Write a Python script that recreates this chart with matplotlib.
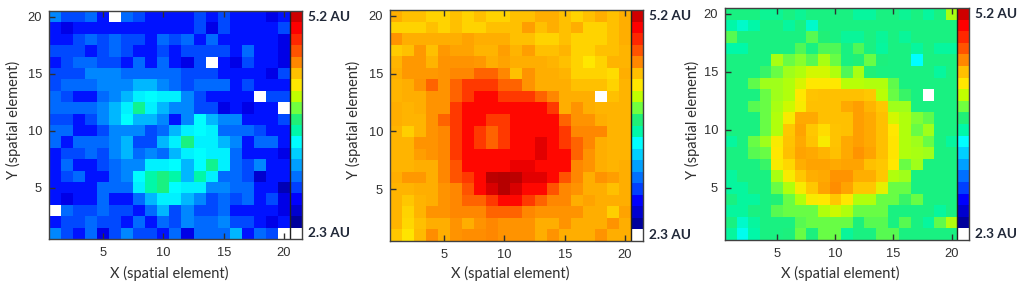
import numpy as np
import matplotlib
matplotlib.use('Agg')
import matplotlib.pyplot as plt
from matplotlib.colors import LinearSegmentedColormap

# colour level of each cell, rows from y=20 down to y=1, columns x=1..20
# level 1 is white (no data), level 20 is the 5.2 AU end of the scale
panel_a = [
    [6.5, 5.2, 5.2, 5.9, 4.3, 1, 5.9, 5.2, 4.3, 4.3, 4.3, 4.3, 5.2, 4.3, 5.2, 4.3, 4.3, 4.3, 3.5, 4.3],
    [4.3, 3.5, 4.3, 4.3, 4.3, 4.3, 4.3, 4.3, 4.3, 4.3, 4.3, 4.3, 5.2, 3.5, 5.2, 4.3, 4.3, 4.3, 4.3, 5.2],
    [4.3, 4.3, 5.2, 5.9, 5.2, 5.9, 5.2, 5.2, 4.3, 5.9, 5.2, 5.9, 4.3, 5.9, 4.3, 4.3, 4.3, 4.3, 4.3, 3.5],
    [5.2, 5.2, 5.2, 4.3, 5.2, 5.9, 5.2, 4.3, 4.3, 5.2, 4.3, 5.2, 5.2, 5.2, 5.2, 4.3, 5.9, 4.3, 4.3, 3.5],
    [4.3, 5.2, 5.9, 5.9, 5.2, 5.2, 4.3, 5.9, 4.3, 5.9, 4.3, 3.5, 5.2, 1, 4.3, 3.5, 5.2, 4.3, 4.3, 3.5],
    [5.2, 5.2, 5.2, 6.5, 6.5, 6.5, 5.9, 5.9, 5.9, 5.9, 5.9, 5.2, 5.2, 5.2, 4.3, 4.3, 4.3, 4.3, 3.5, 5.2],
    [5.2, 5.9, 5.9, 5.9, 6.5, 6.5, 6.5, 7.5, 7.5, 6.5, 5.9, 5.2, 5.9, 5.9, 5.9, 4.3, 5.2, 4.3, 4.3, 4.3],
    [5.9, 5.2, 4.3, 4.3, 5.9, 6.5, 7.5, 8.7, 9, 8.7, 8.7, 6.5, 5.2, 4.3, 4.3, 4.3, 4.3, 1, 5.2, 5.2],
    [5.9, 5.9, 5.9, 5.9, 6.5, 7.5, 8.7, 10.5, 8.7, 7.5, 6.5, 6.5, 5.2, 5.2, 3.5, 4.3, 3.5, 4.3, 4.3, 1],
    [5.2, 5.2, 4.3, 5.2, 6.5, 7.5, 9, 7.5, 7.5, 6.5, 4.3, 6.5, 9, 7.5, 6.5, 6.5, 4.3, 4.3, 4.3, 5.2],
    [5.9, 5.9, 4.3, 4.3, 5.2, 6.5, 6.5, 6.5, 5.2, 5.9, 7.5, 8.7, 9, 8.7, 5.9, 5.9, 5.9, 5.2, 4.3, 4.3],
    [5.9, 4.3, 5.9, 5.9, 5.9, 6.5, 7.5, 5.2, 5.2, 7.5, 8.7, 10.8, 8.7, 8.7, 7.5, 6.5, 4.3, 5.9, 5.9, 4.3],
    [4.3, 5.2, 5.2, 5.9, 5.2, 6.5, 7.5, 5.9, 6.5, 5.9, 7.5, 8.7, 9, 8.7, 8.7, 5.9, 4.3, 4.3, 4.3, 3.5],
    [4.3, 5.9, 4.3, 4.3, 5.2, 5.9, 6.5, 6.5, 8.7, 8.7, 9, 7.5, 9, 10.5, 8.7, 5.9, 5.2, 6.5, 4.3, 4.3],
    [4.3, 5.2, 5.9, 4.3, 4.3, 5.9, 6.5, 9, 10, 10.8, 10, 7.5, 10, 8.7, 5.9, 5.9, 5.2, 3, 4.3, 4.3],
    [4.3, 4.3, 4.3, 4.3, 5.9, 5.9, 5.9, 8.7, 10, 10.8, 9, 8.7, 8.7, 6.5, 6.5, 5.9, 5.9, 4.3, 4.3, 2.5],
    [4.3, 3.5, 4.3, 4.3, 5.9, 4.3, 4.3, 5.9, 7.5, 8.7, 8.7, 7.5, 6.5, 5.2, 5.9, 5.2, 5.9, 4.3, 5.2, 3.5],
    [1, 5.9, 5.2, 5.2, 5.9, 5.2, 5.2, 4.3, 5.9, 7.5, 5.2, 6.5, 5.2, 5.2, 5.9, 4.3, 4.3, 4.3, 4.3, 3.5],
    [4.3, 5.2, 5.2, 5.9, 5.2, 5.2, 4.3, 5.9, 4.3, 5.9, 5.2, 6.5, 5.9, 5.9, 6.5, 5.2, 5.2, 4.3, 3.5, 4.3],
    [6.5, 5.2, 4.3, 5.9, 3.5, 5.2, 6.5, 5.2, 5.2, 4.3, 5.9, 3.5, 5.9, 5.9, 5.9, 7.5, 4.3, 5.9, 5.2, 1],
]
panel_b = [
    [15.3, 15, 15, 14.5, 14.5, 15, 14.5, 15, 14.5, 14.5, 15, 15, 15.3, 15.3, 15, 14.5, 15, 15.3, 15, 15.3],
    [14.5, 14.5, 14.5, 15, 14.5, 15, 14.5, 14.5, 15, 15, 15, 15.6, 15, 15.3, 15, 15.3, 14.5, 14.5, 15, 15.3],
    [15.8, 15.3, 15.3, 15.3, 15.3, 15.3, 15.5, 15.3, 15.3, 15.3, 15, 15, 14.5, 14.5, 15, 14.5, 14.5, 14.5, 15, 15.3],
    [14.7, 15, 15.7, 15, 15.7, 15.5, 15.5, 15.2, 15.2, 15.6, 15.2, 15.6, 15, 15, 15.2, 14.5, 14.5, 15, 15, 15.2],
    [15.2, 15.7, 15.7, 15.2, 15.8, 15.8, 15.8, 15.7, 15.3, 15.5, 15.3, 15.3, 15.3, 15.2, 15, 14.5, 14, 14.5, 15.2, 15.2],
    [15.3, 15.7, 15.7, 15.7, 15.8, 16, 16, 16.7, 16.7, 16, 15, 15.8, 15.3, 15.3, 15.2, 14.5, 14.5, 14.5, 14.3, 15.3],
    [15.2, 15.3, 15.8, 16.7, 15.8, 16.7, 17.6, 17.6, 17.6, 16.7, 16.7, 15.8, 15.3, 15.3, 15.3, 15, 15, 15, 14.5, 15.2],
    [15.2, 15.3, 15.3, 15.8, 15.8, 16.7, 17.6, 18.8, 18.8, 17.6, 17.6, 17.6, 16.7, 16, 15.3, 15.3, 15.3, 1, 15, 15.2],
    [15.3, 15.2, 15.3, 15.8, 15.8, 17.6, 18.8, 18.8, 18.8, 18.8, 18.8, 18.8, 18.8, 17.6, 15.3, 15.8, 15.3, 15.2, 15.2, 15.2],
    [15.3, 15.2, 15.2, 15.8, 16.7, 17.6, 18.8, 18.8, 17.6, 17.6, 18.8, 18.8, 18.8, 18.8, 16.7, 15.8, 15.8, 15.3, 15.2, 15.2],
    [15.2, 14.6, 15.2, 15.8, 16, 17.6, 18.8, 17.6, 16.7, 17.6, 18.8, 18.8, 18.8, 18.8, 17.6, 16, 16, 16, 15.2, 15.2],
    [15.2, 15.2, 15.8, 15.8, 16, 17.6, 18.8, 17.6, 16.7, 17.6, 18.8, 18.8, 19.6, 18.8, 17.6, 16.7, 16, 15.3, 15.2, 15.2],
    [15.2, 15.2, 15.6, 15.8, 16, 17.6, 18.8, 18.8, 18.8, 18.8, 18.8, 18.8, 19.6, 18.8, 18.8, 16.7, 15.8, 15.3, 15.2, 15.2],
    [15.2, 15.2, 15.3, 15.3, 16, 17, 18.8, 18.8, 18.8, 18.8, 19.4, 19.4, 18.8, 18.8, 18.8, 16, 15.8, 15.3, 15.2, 15.3],
    [15.3, 15.7, 15.7, 15.3, 16, 17, 17.6, 18.8, 20.6, 20.8, 20.6, 19.6, 19.6, 18.8, 17, 16, 15.3, 15.8, 15.6, 15.3],
    [15.2, 15.2, 15.3, 15.3, 15.8, 16, 17, 18.8, 19.8, 20.8, 19.8, 18.8, 18.8, 17, 16, 15.8, 15.3, 15.3, 15, 15.3],
    [15.2, 14.8, 15.2, 15.3, 15.8, 16, 16.7, 16.7, 17.6, 18.8, 18.8, 17.6, 16.7, 16, 16, 15.3, 15.5, 15.3, 15.3, 15.3],
    [15.2, 14.5, 15.2, 15.8, 15.8, 16, 16, 16, 16.7, 16.7, 16.7, 16, 15.8, 15.8, 15.8, 15.8, 15.3, 15.3, 14.6, 15.5],
    [15.2, 14.4, 15, 15.3, 15.3, 15.8, 15.3, 15.8, 16, 15.8, 15.8, 15.8, 15.3, 15.3, 15.8, 15.3, 15.3, 15.3, 15.8, 15.3],
    [14.8, 14.1, 15.1, 15.9, 15.3, 15.8, 15.9, 15.9, 16, 15.8, 15.8, 15.8, 15.3, 15.8, 15.3, 15.3, 15.3, 15.8, 15.3, 15.3],
]
panel_c = [
    [10.8, 10.8, 10.8, 10.4, 10.4, 10.8, 10.4, 10.8, 10.8, 10.8, 10.8, 10.2, 10.2, 10.8, 10.8, 10.4, 10.8, 10.2, 10.8, 12.7],
    [10, 9.6, 10, 10.8, 10.8, 10.2, 10.8, 9.6, 10.8, 10.8, 10.8, 10.8, 10.8, 10.8, 10.8, 10.8, 10.8, 10.8, 10.8, 10.8],
    [11.7, 10.8, 10.8, 10.8, 10.8, 10.8, 10.8, 11.7, 11, 10.8, 10.3, 10.3, 10.8, 10.3, 10.8, 10.3, 10.8, 10.8, 10.8, 10.8],
    [10, 10, 10.8, 10.8, 10.8, 10.8, 11.6, 10.8, 11.6, 11.6, 10.8, 11.6, 10.8, 10.2, 10.8, 10.8, 10.2, 10.8, 10.2, 10.2],
    [10.8, 10.8, 10.8, 10.8, 12.7, 11.9, 12.3, 11.7, 12.7, 11.9, 10.8, 11, 11.9, 10.9, 10.8, 10.8, 9, 10.8, 10.8, 10.8],
    [10.8, 10.8, 10.8, 11.3, 11.9, 12.6, 12.8, 13.3, 13.3, 12.8, 11.6, 12.7, 11, 10.8, 10.8, 10.8, 10.8, 10.8, 10.2, 10.8],
    [10.8, 10.8, 11.8, 12.6, 12.6, 12.8, 13.4, 14, 14, 14, 12.9, 12.9, 12.8, 12.8, 11.8, 10.8, 10.8, 10.8, 10.8, 10.8],
    [10.8, 10.8, 10.8, 11.9, 12.6, 12.8, 14, 14.9, 15, 15, 15, 15, 14.8, 12.9, 11.9, 11.3, 10.8, 1, 10.8, 10.8],
    [10.8, 10.8, 11.7, 11.9, 12.7, 13.2, 13.9, 15, 15, 15, 15.4, 15.6, 15.2, 14.8, 12.6, 12.6, 10.8, 10.8, 10.8, 10.8],
    [10.8, 10.8, 10.8, 11.9, 12.8, 13.9, 15.4, 15.4, 15, 15, 15, 15.6, 15.4, 15, 13.3, 12.8, 12.2, 11.8, 10.8, 10.8],
    [10.8, 10.8, 10.8, 11.9, 12.8, 14.8, 15.5, 14.8, 14.3, 14.9, 15, 15.6, 15.4, 15, 14, 12.8, 11.9, 12.6, 10.8, 10.8],
    [10.2, 10.8, 11.9, 12.6, 13.9, 14.9, 15.4, 14.9, 13.9, 14.9, 15.4, 15.6, 15.4, 15, 14.1, 12.8, 12.6, 11.9, 10.8, 10.2],
    [10.8, 10.8, 11.7, 11.9, 14, 15, 15.5, 15.4, 15.2, 15, 15.4, 15.8, 15.5, 15, 14.1, 12.8, 12.7, 12.6, 10.8, 10.8],
    [10.8, 10.8, 10.8, 11.3, 13.9, 14.4, 15.3, 15.5, 15.5, 15.4, 15.5, 15.5, 15, 14.8, 14, 11.9, 12.6, 10.8, 10.8, 10.8],
    [10.2, 10.8, 10.8, 10.8, 12.7, 13.9, 14.8, 15.3, 15.4, 15.8, 15.8, 15.3, 15.3, 14.8, 12.8, 12.6, 10.8, 10.8, 10.8, 10.8],
    [10.2, 10.2, 10.8, 10.8, 11.9, 12.8, 13.9, 14.8, 15.5, 15.9, 15.5, 14.8, 14.8, 13.6, 11.9, 11.9, 10.8, 10.8, 10.8, 10.8],
    [10.8, 10.2, 10.2, 10.8, 11, 11.9, 12.8, 13.9, 14, 14.8, 14, 12.8, 12.8, 11.9, 11.9, 11.3, 11.9, 10.8, 10.8, 10.8],
    [10.2, 10.2, 10.8, 10.8, 11.7, 11.9, 11.9, 11.9, 12.8, 13.2, 12.8, 11.9, 11.9, 11.9, 10.8, 10.8, 10.8, 10.8, 10.2, 10.8],
    [10.8, 9.6, 10.2, 10.8, 10.8, 10.8, 11.7, 11.9, 11.9, 11.9, 11.9, 10.9, 11.7, 11.7, 10.8, 11.7, 10.8, 10.2, 11.8, 12.8],
    [10.2, 9.2, 10, 10.8, 10.8, 10.9, 11.9, 10.9, 11.9, 11.9, 10.3, 10.8, 10.8, 11.7, 11.7, 10.8, 10.8, 10.8, 10.8, 10.8],
]
scale_levels = list(range(20, 0, -1))
level_colors = ['#ffffff', '#00009c', '#0000d0', '#0000ff', '#0040ff', '#0070ff', '#00a0ff',
                '#00d0ff', '#00ffff', '#00f8a8', '#20f078', '#70ff40', '#c0ff00', '#ffe800',
                '#ffc000', '#ff8800', '#ff5400', '#ff2800', '#ff0000', '#d00000', '#b00000']
ticks = [5, 10, 15, 20]
top_label = '5.2 AU'
bottom_label = '2.3 AU'

W, H = 1024, 288
cmap = LinearSegmentedColormap.from_list('levels', level_colors, N=1024)

# left, right, top, bottom of each axes in pixels, x position of the labels
boxes = [(49, 302, 11, 239, 169, 13), (390, 643, 10, 241, 510, 353), (725, 969, 8, 240, 840, 692)]

fig = plt.figure(figsize=(W / 100, H / 100), dpi=100)
for grid, (l, r, t, b, xc, yc) in zip([panel_a, panel_b, panel_c], boxes):
    ax = fig.add_axes([l / W, 1 - b / H, (r - l) / W, (b - t) / H])
    # the colour scale is simply column 21 of the image
    cells = np.column_stack([np.array(grid, dtype=float)[::-1], scale_levels[::-1]])
    ax.imshow(cells, origin='lower', extent=(0.5, 21.5, 0.5, 20.5), aspect='auto',
              cmap=cmap, vmin=1, vmax=21, interpolation='nearest')
    ax.axvline(20.5, color='#202020', lw=1)
    ax.set_xticks(ticks)
    ax.set_yticks(ticks)
    ax.tick_params(direction='in', length=4.3, width=1, top=True, color='#303030',
                   labelcolor='#303030', labelsize=9.3)
    ax.tick_params(axis='x', pad=6)
    ax.tick_params(axis='y', pad=5)
    for label in ax.get_xticklabels() + ax.get_yticklabels():
        label.set_family('Liberation Sans')
    for s in ax.spines.values():
        s.set_color('#404040')
        s.set_linewidth(1)
    ax.set_xlabel('X (spatial element)', family='Lato', fontsize=10.5, color='#303030')
    ax.set_ylabel('Y (spatial element)', family='Lato', fontsize=10.5, color='#303030')
    ax.xaxis.set_label_coords((xc - l) / (r - l), -(273 - b) / (b - t))
    ax.xaxis.label.set_va('center')
    ax.yaxis.set_label_coords((yc - l) / (r - l), (b - 120) / (b - t))
    ax.yaxis.label.set_va('center')
    for y, txt in [(20, top_label), (1, bottom_label)]:
        ax.annotate(txt, xy=(21.5, y), xytext=(4.5, 0), textcoords='offset points', va='center',
                    family='Lato', weight='bold', fontsize=9.8, color='#202838',
                    annotation_clip=False)
fig.savefig('out.png', dpi=100)
